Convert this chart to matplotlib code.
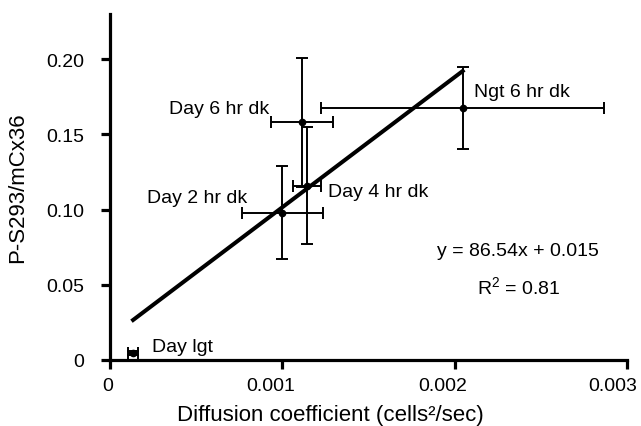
import numpy as np
from matplotlib import pyplot as plt
from matplotlib import rcParams
from matplotlib.transforms import ScaledTranslation

rcParams['font.family'] = ['Liberation Sans', 'DejaVu Sans']
rcParams['mathtext.fontset'] = 'custom'
rcParams['mathtext.rm'] = 'Liberation Sans'
rcParams['font.size'] = 14

labels = ["Day lgt", "Day 2 hr dk", "Day 4 hr dk", "Day 6 hr dk", "Ngt 6 hr dk"]
diff = [0.000134, 0.001, 0.001145, 0.001116, 0.002047]
diff_err = [0.00003, 0.000235, 0.00008, 0.00018, 0.00082]
ps293 = [0.0047, 0.098, 0.116, 0.158, 0.1673]
ps293_err = [0.0015, 0.031, 0.039, 0.043, 0.0273]

slope, intercept = 86.54, 0.015

fig = plt.figure(figsize=(6.41, 4.27), dpi=100)
ax = fig.add_axes([0.1716, 0.1546, 0.8064, 0.81])

ax.errorbar(diff, ps293, xerr=diff_err, yerr=ps293_err, fmt='o', color='black',
            markersize=4.5, elinewidth=1.4, capsize=4, capthick=1.4)

xfit = np.array([min(diff), max(diff)])
ax.plot(xfit, slope * xfit + intercept, color='black', linewidth=2.9)

# point labels
offsets = {
    "Day lgt": (0.00011, 0.0046, 'left'),
    "Day 2 hr dk": (-0.000203, 0.010, 'right'),
    "Day 4 hr dk": (0.000122, -0.004, 'left'),
    "Day 6 hr dk": (-0.000192, 0.009, 'right'),
    "Ngt 6 hr dk": (0.000063, 0.0114, 'left'),
}
for lab, x, y in zip(labels, diff, ps293):
    dx, dy, ha = offsets[lab]
    ax.text(x + dx, y + dy, lab, ha=ha, va='center', fontsize=14)

ax.text(0.00237, 0.0727, "y = 86.54x + 0.015", ha='center', va='center', fontsize=14)
ax.text(0.00237, 0.0485, r"R$^\mathregular{2}$ = 0.81", ha='center', va='center', fontsize=14)

ax.set_xlim(0, 0.003)
ax.set_ylim(0, 0.23)
ax.set_xticks([0, 0.001, 0.002, 0.003])
ax.set_xticklabels(["0", "0.001", "0.002", "0.003"])
ax.set_yticks([0, 0.05, 0.10, 0.15, 0.20])
ax.set_yticklabels(["0", "0.05", "0.10", "0.15", "0.20"])

for side in ['top', 'right']:
    ax.spines[side].set_visible(False)
for side in ['left', 'bottom']:
    ax.spines[side].set_linewidth(2.3)
ax.tick_params(direction='out', length=6.5, width=2.3, labelsize=14)
ax.tick_params(axis='y', pad=12)
ax.tick_params(axis='x', pad=6)

# x tick labels sit a little left of their ticks in the original
for lbl, shift in zip(ax.get_xticklabels(), [-2, -12, -12, -14]):
    lbl.set_transform(lbl.get_transform() + ScaledTranslation(shift / 100, 0, fig.dpi_scale_trans))

ax.set_xlabel("Diffusion coefficient (cells²/sec)", fontsize=16, labelpad=7)
ax.xaxis.label.set_x(0.427)
ax.set_ylabel("P-S293/mCx36", fontsize=16, labelpad=13)

plt.savefig("out.png", dpi=100)
